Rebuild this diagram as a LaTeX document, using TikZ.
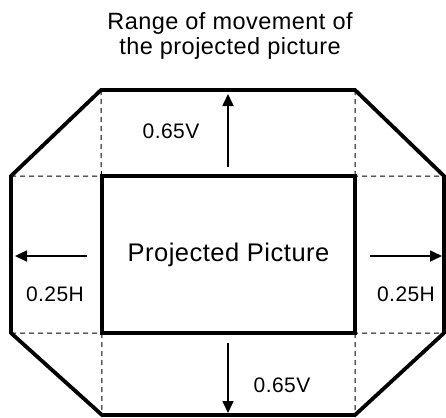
\documentclass[tikz,border=0pt]{standalone}
\usepackage{fontspec}
\setmainfont{Liberation Sans}[LetterSpace=2]
\usetikzlibrary{arrows.meta,positioning}

\begin{document}
\begin{tikzpicture}[x=1pt,y=-1pt,
  frame/.style={line width=3.8pt,line join=miter},
  guide/.style={line width=1pt,dash pattern=on 5pt off 4pt},
  arr/.style={-{Triangle[length=12pt,width=11pt]},line width=1.7pt},
  lbl/.style={font=\fontsize{21}{24}\selectfont}]
\useasboundingbox (0,0) rectangle (446,417);
% title
\node[font=\fontsize{23.5}{24.5}\selectfont,align=center] (title) at (230,36)
  {Range of movement of\\the projected picture};
% outer range
\coordinate (tl) at (101,90);  \coordinate (tr) at (355,90);
\coordinate (rt) at (444,176); \coordinate (rb) at (444,333);
\coordinate (br) at (355,415); \coordinate (bl) at (102,415);
\coordinate (lb) at (11,333);  \coordinate (lt) at (11,176);
\draw[guide] (lt) -- (rt) (lb) -- (rb) (tl) -- (bl) (tr) -- (br);
\draw[frame] (tl) -- (tr) -- (rt) -- (rb) -- (br) -- (bl) -- (lb) -- (lt) -- cycle;
% picture
\node[draw,frame,fill=white,minimum width=253pt,minimum height=157pt,
  font=\fontsize{25.5}{28}\selectfont] (pic) at (228.5,254.5) {Projected Picture};
% arrows
\coordinate (up0) at (228,167);  \coordinate (up1) at (228,94);
\coordinate (dn0) at (228,343);  \coordinate (dn1) at (228,413);
\coordinate (lf0) at (87,256);   \coordinate (lf1) at (15,256);
\coordinate (rg0) at (370,256);  \coordinate (rg1) at (442,256);
\draw[arr] (up0) -- (up1);
\draw[arr] (dn0) -- (dn1);
\draw[arr] (lf0) -- (lf1);
\draw[arr] (rg0) -- (rg1);
\node[lbl] (vtop) at (171,131) {0.65V};
\node[lbl] (vbot) at (282,385) {0.65V};
\node[lbl] (hleft) at (55,294) {0.25H};
\node[lbl] (hright) at (406,294) {0.25H};
\end{tikzpicture}
\end{document}
